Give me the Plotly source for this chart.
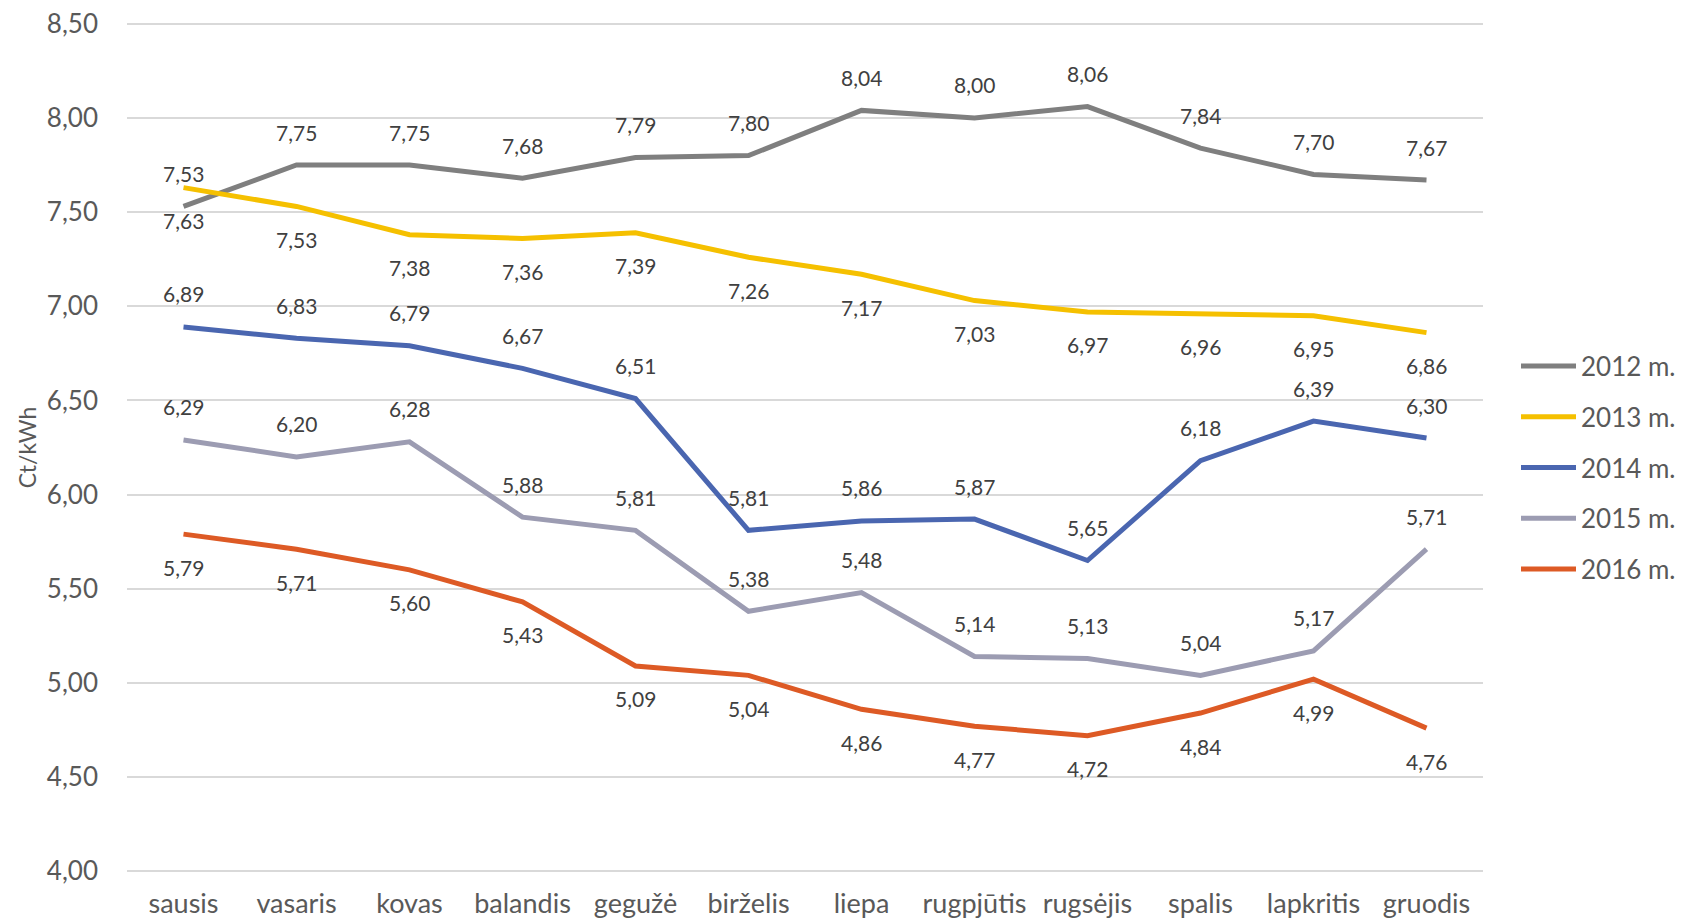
import plotly.graph_objects as go

months = ["sausis", "vasaris", "kovas", "balandis", "gegužė", "birželis",
          "liepa", "rugpjūtis", "rugsėjis", "spalis", "lapkritis", "gruodis"]

y2012 = [7.53, 7.75, 7.75, 7.68, 7.79, 7.80, 8.04, 8.00, 8.06, 7.84, 7.70, 7.67]
y2013 = [7.63, 7.53, 7.38, 7.36, 7.39, 7.26, 7.17, 7.03, 6.97, 6.96, 6.95, 6.86]
y2014 = [6.89, 6.83, 6.79, 6.67, 6.51, 5.81, 5.86, 5.87, 5.65, 6.18, 6.39, 6.30]
y2015 = [6.29, 6.20, 6.28, 5.88, 5.81, 5.38, 5.48, 5.14, 5.13, 5.04, 5.17, 5.71]
y2016 = [5.79, 5.71, 5.60, 5.43, 5.09, 5.04, 4.86, 4.77, 4.72, 4.84, 5.02, 4.76]
labels2016 = ["5,79", "5,71", "5,60", "5,43", "5,09", "5,04",
              "4,86", "4,77", "4,72", "4,84", "4,99", "4,76"]

series = [
    ("2012 m.", y2012, "#7f7f7f", 1, None),
    ("2013 m.", y2013, "#f5c000", -1, None),
    ("2014 m.", y2014, "#4a66b0", 1, None),
    ("2015 m.", y2015, "#9c9cb2", 1, None),
    ("2016 m.", y2016, "#dd5a25", -1, labels2016),
]

FONT = "Lato, 'Open Sans', sans-serif"

fig = go.Figure()
annotations = []
for i, (name, vals, color, side, labs) in enumerate(series):
    fig.add_trace(go.Scatter(
        x=months, y=vals, name=name, mode="lines",
        line=dict(color=color, width=5),
        legendgroup=str(i), hoverinfo="skip",
    ))
    for j, (m, v) in enumerate(zip(months, vals)):
        txt = labs[j] if labs else f"{v:.2f}".replace(".", ",")
        annotations.append(dict(
            x=m, y=v, xref="x", yref="y", text=txt, showarrow=False,
            yshift=33 * side, font=dict(family=FONT, size=21, color="#404040"),
        ))

annotations.append(dict(
    x=-0.074, y=0.5, xref="paper", yref="paper", text="Ct/kWh",
    textangle=-90, showarrow=False, xanchor="center", yanchor="middle",
    font=dict(family=FONT, size=23, color="#595959"),
))

fig.update_layout(
    width=1681, height=924,
    margin=dict(l=127, r=198, t=19.8, b=48.6),
    paper_bgcolor="white", plot_bgcolor="white",
    separators=", ",
    showlegend=True,
    legend=dict(
        xref="container", x=1.0, xanchor="right",
        y=0.476, yanchor="middle",
        font=dict(family=FONT, size=26, color="#595959"),
        traceorder="grouped", tracegroupgap=14,
        itemwidth=55,
        bgcolor="rgba(0,0,0,0)",
    ),
    annotations=annotations,
    xaxis=dict(
        type="category", categoryorder="array", categoryarray=months,
        range=[-0.5, 11.5], automargin=False,
        showgrid=False, showline=False, zeroline=False,
        tickfont=dict(family=FONT, size=27, color="#595959"),
        ticks="", ticklabelstandoff=10,
    ),
    yaxis=dict(
        range=[3.98, 8.52], dtick=0.5, tick0=4, tickformat=".2f", automargin=False,
        showgrid=True, gridcolor="#d9d9d9", gridwidth=2,
        zeroline=False, showline=False, ticks="",
        tickfont=dict(family=FONT, size=26, color="#595959"),
        ticklabelstandoff=28,
    ),
)

fig.write_html("out.html", config={"displayModeBar": False},
               post_script="document.body.style.margin='0';")
